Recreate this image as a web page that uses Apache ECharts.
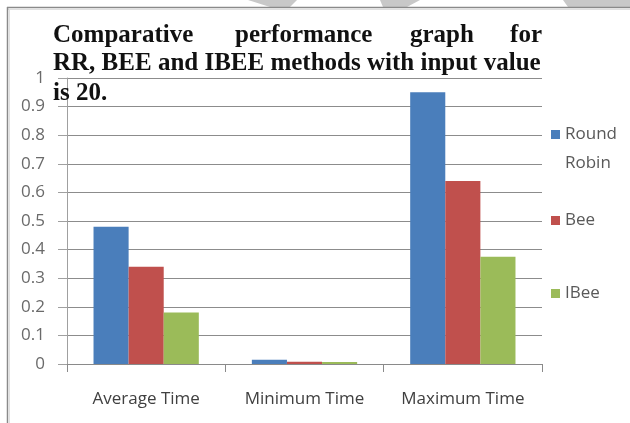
<!DOCTYPE html>
<html>
<head>
<meta charset="utf-8">
<script src="https://cdn.jsdelivr.net/npm/echarts@6/dist/echarts.min.js"></script>
<style>html,body{margin:0;padding:0;background:#fff}#c{width:630px;height:423px}</style>
</head>
<body>
<div id="c"></div>
<script>
var categories = ['Average Time', 'Minimum Time', 'Maximum Time'];
var roundRobin = [0.48, 0.015, 0.95];
var bee = [0.34, 0.008, 0.64];
var ibee = [0.18, 0.007, 0.375];
var seriesNames = ['Round Robin', 'Bee', 'IBee'];
var titleLine1 = ['Comparative', 'performance', 'graph', 'for'];
var titleLine2 = 'RR, BEE and IBEE methods with input value';
var titleLine3 = 'is 20.';

var chart = echarts.init(document.getElementById('c'));
var labelFont = 'Open Sans';
var titleFont = {fontFamily: 'Liberation Serif', fontWeight: 'bold', fontSize: 25, fill: '#111'};

function legendCfg(name, top, fmt) {
  return {
    data: [name], left: 551, top: top, orient: 'vertical',
    itemWidth: 9, itemHeight: 9, padding: 0,
    icon: 'rect',
    formatter: fmt,
    textStyle: {fontFamily: labelFont, fontSize: 17, color: '#595959', lineHeight: 29}
  };
}

var graphics = [
  {type: 'polygon', shape: {points: [[248,0],[297,0],[290,7],[270,7]]}, style: {fill: '#c8c8c8'}},
  {type: 'polygon', shape: {points: [[380,0],[420,0],[407,7],[383,7]]}, style: {fill: '#c8c8c8'}},
  {type: 'polygon', shape: {points: [[563,0],[630,0],[630,7],[568,7]]}, style: {fill: '#c8c8c8'}},
  {type: 'line', shape: {x1: 7, y1: 7.5, x2: 630, y2: 7.5}, style: {stroke: '#8a8a8a', lineWidth: 1.5}},
  {type: 'line', shape: {x1: 8, y1: 9.5, x2: 630, y2: 9.5}, style: {stroke: '#e0e0e0', lineWidth: 1}},
  {type: 'line', shape: {x1: 7.5, y1: 7, x2: 7.5, y2: 423}, style: {stroke: '#8a8a8a', lineWidth: 1.5}},
  {type: 'line', shape: {x1: 9.5, y1: 9, x2: 9.5, y2: 423}, style: {stroke: '#e0e0e0', lineWidth: 1}}
];
var l1x = [53, 235, 410, 542];
titleLine1.forEach(function (w, i) {
  graphics.push({type: 'text', x: l1x[i], y: 36, z: 100,
    style: Object.assign({text: w, align: i === 3 ? 'right' : 'left', verticalAlign: 'middle'}, titleFont)});
});
graphics.push({type: 'text', x: 53, y: 64, z: 100,
  style: Object.assign({text: titleLine2, align: 'left', verticalAlign: 'middle'}, titleFont)});
graphics.push({type: 'text', x: 53, y: 94, z: 100,
  style: Object.assign({text: titleLine3, align: 'left', verticalAlign: 'middle'}, titleFont)});

var colors = ['#4a7ebb', '#c0504d', '#9bbb59'];
var seriesData = [roundRobin, bee, ibee];

chart.setOption({
  animation: false,
  color: colors,
  grid: {left: 67, right: 88, top: 78, bottom: 59},
  legend: [
    legendCfg(seriesNames[0], 91, function () { return ' \nRound\nRobin'; }),
    legendCfg(seriesNames[1], 206, null),
    legendCfg(seriesNames[2], 279, null)
  ],
  xAxis: {
    type: 'category', data: categories,
    axisLine: {lineStyle: {color: '#8a8a8a'}},
    axisTick: {show: true, length: 8, lineStyle: {color: '#8a8a8a'}},
    axisLabel: {fontFamily: labelFont, fontSize: 17, color: '#404040', margin: 27, interval: 0, hideOverlap: false}
  },
  yAxis: {
    type: 'value', min: 0, max: 1, interval: 0.1,
    axisLine: {show: true, lineStyle: {color: '#a0a0a0'}},
    axisTick: {show: true, length: 9, lineStyle: {color: '#a0a0a0'}},
    axisLabel: {fontFamily: labelFont, fontSize: 17, color: '#6a6a6a', margin: 22,
      formatter: function (v) { return String(Math.round(v * 10) / 10); }},
    splitLine: {lineStyle: {color: '#8c8c8c'}}
  },
  series: seriesNames.map(function (n, i) {
    return {name: n, type: 'bar', data: seriesData[i], barGap: '0%', barCategoryGap: '33.5%'};
  }),
  graphic: graphics
});
</script>
</body>
</html>
